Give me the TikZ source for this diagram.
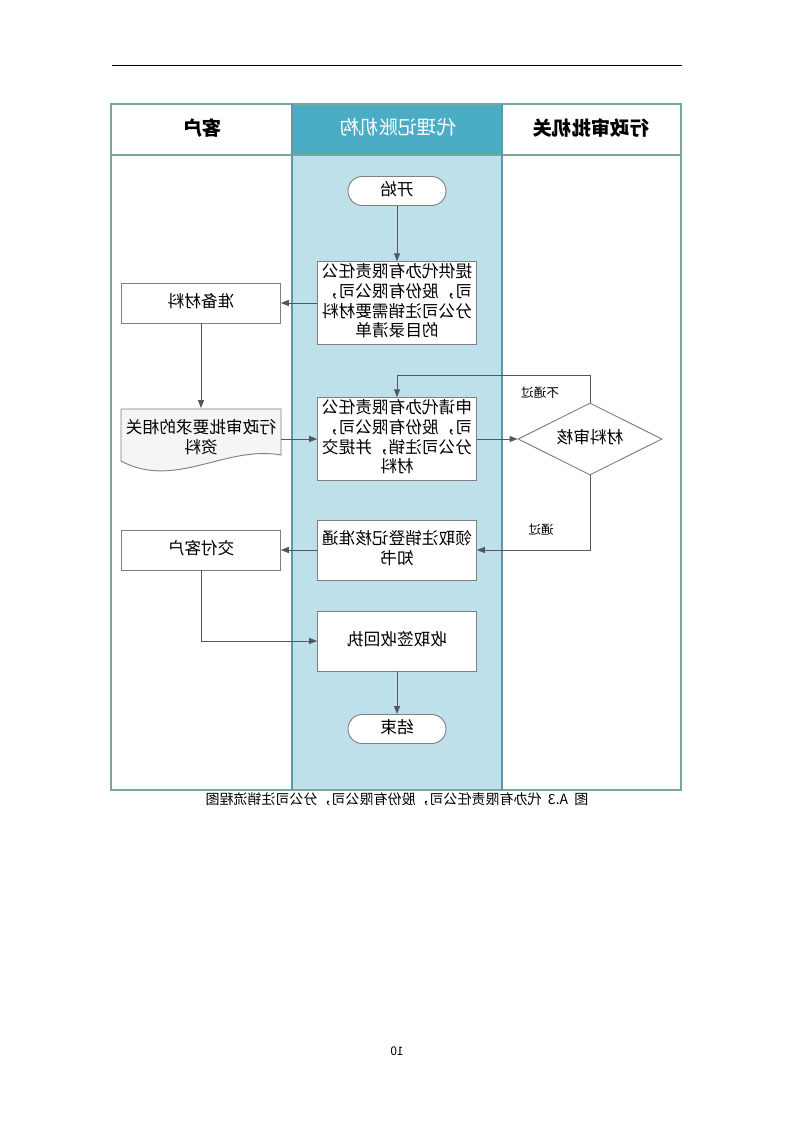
\documentclass[tikz,border=0pt]{standalone}
\usepackage{fontspec}
\setmainfont{Noto Sans CJK SC}
\usepackage{graphicx}
\usetikzlibrary{shapes.geometric,arrows.meta}

\definecolor{framegreen}{RGB}{122,168,152}
\definecolor{lanefill}{RGB}{189,224,234}
\definecolor{headfill}{RGB}{75,172,198}
\definecolor{laneline}{RGB}{96,150,170}
\definecolor{boxgray}{RGB}{128,128,128}
\definecolor{linegray}{RGB}{80,88,94}

% the scanned page is mirrored, so every text is flipped
\newcommand{\fliptext}[1]{\reflectbox{\begin{tabular}{@{}c@{}}#1\end{tabular}}}

\begin{document}
\begin{tikzpicture}[x = 0.75pt, y = -0.75pt, >= {Triangle[length=6pt,width=4.5pt]},
    line/.style = {draw=linegray, line width=0.7pt},
    box/.style = {draw=boxgray, fill=white, line width=0.7pt, minimum width=119pt, inner sep=1pt,
      font=\fontsize{12.5}{14.8}\selectfont},
    term/.style = {box, rounded corners=10.8pt, minimum width=73.5pt, minimum height=21.75pt},
    head/.style = {font=\fontsize{14.5}{16}\selectfont\bfseries},
    tag/.style = {font=\fontsize{9.5}{11}\selectfont}]
        \useasboundingbox (0, 0) rectangle (794, 1123);
        \fill[white] (0, 0) rectangle (794, 1123);
        \draw[line width=0.6pt] (112, 65) -- (682, 65);
        % swim lanes
        \fill[lanefill] (292, 155) rectangle (502, 790);
        \fill[headfill] (292, 104) rectangle (502, 155);
        \draw[framegreen, line width=0.9pt] (111, 104) rectangle (681, 790);
        \draw[framegreen, line width=0.9pt] (111, 155) -- (681, 155);
        \draw[laneline, line width=0.9pt] (292, 104) -- (292, 790);
        \draw[laneline, line width=0.9pt] (502, 104) -- (502, 790);
        \node[head] (hclient) at (202, 130) {\fliptext{客户}};
        \node[font=\fontsize{14.5}{16}\selectfont, white] (hagent) at (398, 130) {\fliptext{代理记账机构}};
        \node[head] (hgov) at (591, 130) {\fliptext{行政审批机关}};
        % steps
        \node[term] (start) at (397, 191) {\fliptext{开始}};
        \node[box, minimum height=60pt] (list) at (397, 303) {\fliptext{提供代办有限责任公\\司，股份有限公司，\\分公司注销需要材料\\的目录清单}};
        \node[box, minimum height=30pt] (prepare) at (201, 303) {\fliptext{准备材料}};
        \fill[gray!8, draw=boxgray, line width=0.7pt] (121, 409) -- (281, 409) -- (281, 455)
            .. controls (225, 445) and (175, 490) .. (121, 461) -- cycle;
        \node[minimum width=120pt, minimum height=46pt, inner sep=0pt, font=\fontsize{12.5}{14.8}\selectfont] (papers) at (201, 439) {\fliptext{行政审批要求的相关\\资料}};
        \node[box, minimum height=60pt] (apply) at (397, 439) {\fliptext{申请代办有限责任公\\司，股份有限公司，\\分公司注销，并提交\\材料}};
        \node[diamond, aspect=2, draw=boxgray, fill=white, line width=0.7pt, minimum width=108pt, minimum height=54pt, inner sep=0pt,
            font=\fontsize{12.5}{14.8}\selectfont] (check) at (590, 439) {\fliptext{材料审核}};
        \node[box, minimum height=45pt] (notice) at (397, 550) {\fliptext{领取注销登记核准通\\知书}};
        \node[box, minimum height=30pt] (deliver) at (201, 550) {\fliptext{交付客户}};
        \node[box, minimum height=45pt] (receipt) at (397, 641) {\fliptext{收取签收回执}};
        \node[term] (finish) at (397, 729) {\fliptext{结束}};
        \coordinate (back) at (590, 375);
        % connectors
        \draw[line, ->] (start) -- (list);
        \draw[line, ->] (list) -- (prepare);
        \draw[line, ->] (prepare) -- (papers);
        \draw[line, ->] (papers) -- (apply);
        \draw[line, ->] (apply) -- (check);
        \draw[line, ->] (check.north) -- (back) -| (apply.north);
        \draw[line, ->] (check.south) |- (notice.east);
        \draw[line, ->] (notice) -- (deliver);
        \draw[line, ->] (deliver.south) |- (receipt.west);
        \draw[line, ->] (receipt) -- (finish);
        \node[tag] (nopass) at (540, 394) {\fliptext{不通过}};
        \node[tag] (pass) at (541, 531) {\fliptext{通过}};
        % caption and page number
        \node[font=\fontsize{10.5}{12}\selectfont] (caption) at (397, 801) {\fliptext{图~~A.3~~代办有限责任公司，股份有限公司，分公司注销流程图}};
        \node[font=\fontsize{9}{10}\selectfont] (pageno) at (397, 1053) {\fliptext{10}};
      \end{tikzpicture}
\end{document}
